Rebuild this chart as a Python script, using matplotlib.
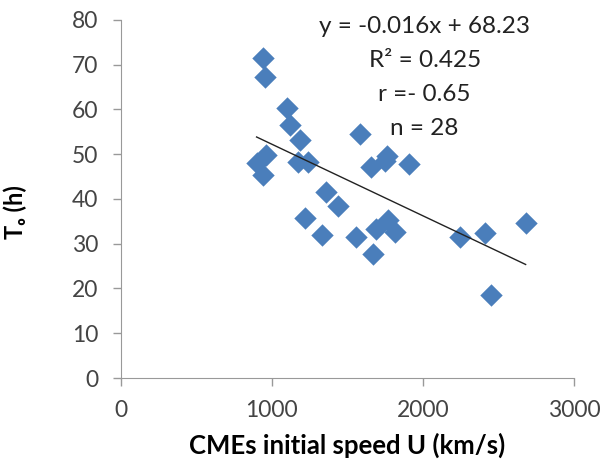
import numpy as np
import matplotlib.pyplot as plt

plt.rcParams['font.family'] = ['Lato', 'DejaVu Sans']

# CME initial speed (km/s) and transit time To (h)
speed = [943, 954, 1097, 1119, 1185, 1582, 899, 961, 943, 1174,
         1240, 1659, 1747, 1765, 1908, 1361, 1438, 1218, 1333, 1560,
         1670, 1688, 1769, 1813, 2247, 2408, 2679, 2452]
transit = [71.4, 67.3, 60.3, 56.5, 53.2, 54.5, 48.0, 49.8, 45.4, 48.3,
           48.3, 47.2, 48.4, 49.6, 47.8, 41.6, 38.5, 35.7, 32.0, 31.4,
           27.7, 33.4, 35.3, 32.7, 31.6, 32.3, 34.6, 18.5]

slope = -0.016
intercept = 68.23
stats = ['y = -0.016x + 68.23', 'R\u00b2 = 0.425', 'r =- 0.65', 'n = 28']

fig = plt.figure(figsize=(6.05, 4.74), dpi=100)
ax = fig.add_axes([0.1995, 0.2025, 0.7495, 0.7555])

ax.scatter(speed, transit, marker='D', s=130, color='#4a7ebb', linewidths=0, zorder=3)

xl = np.array([min(speed), max(speed)])
ax.plot(xl, slope * xl + intercept, color='#222222', lw=1.0, zorder=4)

ax.set_xlim(0, 3000)
ax.set_ylim(0, 80)
ax.set_xticks([0, 1000, 2000, 3000])
ax.set_yticks(range(0, 81, 10))
for s in ['top', 'right']:
    ax.spines[s].set_visible(False)
for s in ['left', 'bottom']:
    ax.spines[s].set_color('#999999')
ax.tick_params(colors='#999999', labelcolor='#444444', labelsize=16.5, length=6, width=1, pad=10)

ax.set_xlabel('CMEs initial speed U (km/s)', fontsize=18.5, fontweight='bold', labelpad=8)
ax.set_ylabel('T\u2092 (h)', fontsize=17, fontweight='bold')
ax.yaxis.set_label_coords(-0.207, 0.464)

for i, line in enumerate(stats):
    ax.text(2011, 78.6 - i * 7.6, line, ha='center', va='center', fontsize=17.5,
            color='#222222', clip_on=False)

fig.savefig('out.png', dpi=100)
